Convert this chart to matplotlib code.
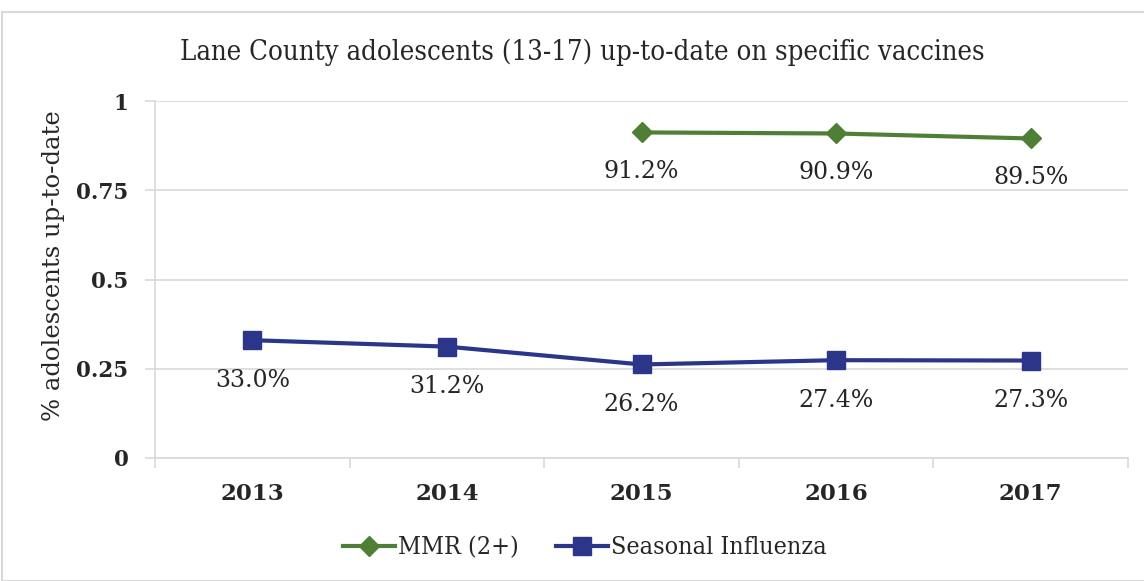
import numpy as np
import matplotlib
matplotlib.use('Agg')
import matplotlib.pyplot as plt
from matplotlib.patches import Rectangle
from matplotlib.font_manager import FontProperties

# Данные
years = ['2013', '2014', '2015', '2016', '2017']
mmr_years = ['2015', '2016', '2017']
mmr = [0.912, 0.909, 0.895]
flu = [0.330, 0.312, 0.262, 0.274, 0.273]
mmr_labels = ['91.2%', '90.9%', '89.5%']
flu_labels = ['33.0%', '31.2%', '26.2%', '27.4%', '27.3%']
yticks = [0, 0.25, 0.5, 0.75, 1]
ytick_labels = ['0', '0.25', '0.5', '0.75', '1']

green = '#4f7f35'
blue = '#2b368a'
grid_c = '#d9d9d9'
txt = '#262626'
font = 'DejaVu Serif'

fig = plt.figure(figsize=(11.44, 5.81), dpi=100)
ax = fig.add_axes([155 / 1144, 1 - 458 / 581, (1128 - 155) / 1144, (458 - 101) / 581])

x = np.arange(len(years))
xm = [years.index(y) for y in mmr_years]

ax.plot(xm, mmr, color=green, lw=3, marker='D', ms=10, mec=green, label='MMR (2+)', zorder=3)
ax.plot(x, flu, color=blue, lw=3, marker='s', ms=13, mec=blue, label='Seasonal Influenza', zorder=3)

for xi, v, s in zip(xm, mmr, mmr_labels):
    ax.annotate(s, (xi, v), xytext=(0, -28), textcoords='offset points', ha='center', va='center',
                fontsize=17, family=font, color=txt)
for xi, v, s in zip(x, flu, flu_labels):
    ax.annotate(s, (xi, v), xytext=(0, -29), textcoords='offset points', ha='center', va='center',
                fontsize=17, family=font, color=txt)

ax.set_xlim(-0.5, len(years) - 0.5)
ax.set_ylim(0, 1)
ax.set_yticks(yticks)
ax.set_yticklabels(ytick_labels, fontsize=15.5, fontweight='bold', family=font, color=txt)
ax.set_xticks(x)
ax.set_xticklabels(years, fontsize=16.5, fontweight='bold', family=font, color=txt)
ax.set_xticks(np.arange(-0.5, len(years)), minor=True)
ax.tick_params(axis='x', which='major', length=0, pad=18)
ax.tick_params(axis='x', which='minor', length=7, color=grid_c, width=1.2)
ax.tick_params(axis='y', length=7, color=grid_c, width=1.2, pad=12)
ax.grid(axis='y', color=grid_c, lw=1.2)
ax.set_axisbelow(True)
for side in ['top', 'right']:
    ax.spines[side].set_visible(False)
for side in ['left', 'bottom']:
    ax.spines[side].set_color(grid_c)
    ax.spines[side].set_linewidth(1.2)

ax.set_ylabel('% adolescents up-to-date', fontsize=17.5, family=font, color=txt)
ax.yaxis.set_label_coords(-0.092, 0.54)
fig.text(0.509, 1 - 52 / 581, 'Lane County adolescents (13-17) up-to-date on specific vaccines',
         ha='center', va='center', fontsize=19.7, family=font, fontstretch='condensed', color=txt)

leg_font = FontProperties(family=font, size=18, stretch='condensed')
leg = ax.legend(loc='center', ncol=2, frameon=False, prop=leg_font,
                handlelength=2.1, handletextpad=0.1, columnspacing=1.5)
leg.set_bbox_to_anchor((0.511, 1 - 548 / 581), transform=fig.transFigure)
for t in leg.get_texts():
    t.set_color(txt)

fig.patches.append(Rectangle((2 / 1144, 0), 1.2, 1 - 12 / 581, transform=fig.transFigure,
                             fill=False, edgecolor=grid_c, lw=1.5))

fig.savefig('out.png', dpi=100)
